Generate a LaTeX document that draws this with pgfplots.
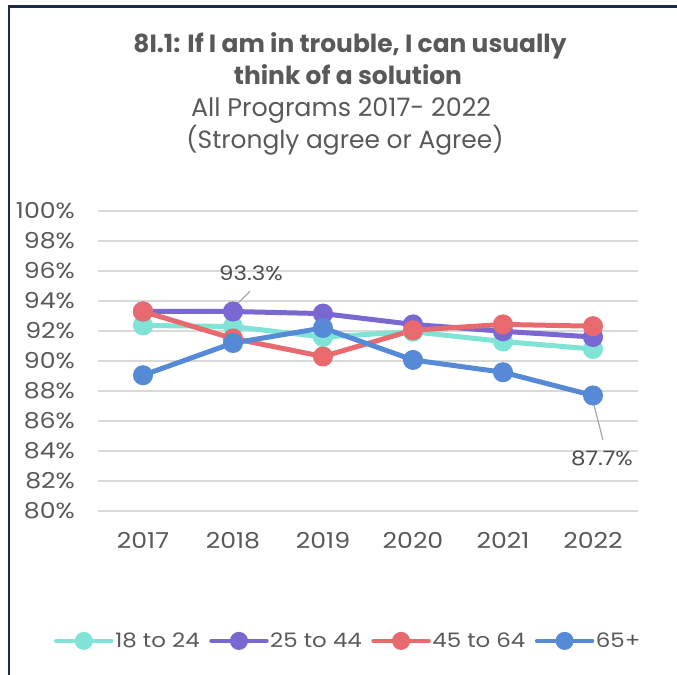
\documentclass[border=0pt]{standalone}
\usepackage{pgfplots}
\pgfplotsset{compat=1.18}
\usepackage{fontspec}
\setmainfont{Poppins}
\newfontfamily\tickfont{Poppins}[FakeStretch=1.15]

\definecolor{teal18}{HTML}{7FE3D6}
\definecolor{purp25}{HTML}{7A67D2}
\definecolor{red45}{HTML}{E86A6F}
\definecolor{blue65}{HTML}{568AD6}
\definecolor{txtgray}{HTML}{595959}
\definecolor{gridgray}{HTML}{D9D9D9}
\definecolor{frame}{HTML}{1A2B4C}

\begin{document}
\begin{tikzpicture}
\useasboundingbox (0bp,0bp) rectangle (677bp,675bp);
% frame of the chart area (left and top edges visible)
\draw[frame, line width=2.5bp] (9bp,-20bp) -- (9bp,668.5bp) -- (700bp,668.5bp);

% titles
\node[anchor=base, font=\fontsize{25}{28}\selectfont\bfseries, text=txtgray] at (350bp,622bp) {8I.1: If I am in trouble, I can usually};
\node[anchor=base, font=\fontsize{25}{28}\selectfont\bfseries, text=txtgray] at (348bp,590bp) {think of a solution};
\node[anchor=base, font=\fontsize{25.5}{28}\selectfont, text=txtgray] at (341bp,558bp) {All Programs 2017- 2022};
\node[anchor=base, font=\fontsize{25}{28}\selectfont, text=txtgray] at (345bp,526bp) {(Strongly agree or Agree)};

\begin{axis}[
  at={(98bp,164bp)}, anchor=south west,
  scale only axis, width=540bp, height=300bp,
  xmin=2016.5, xmax=2022.5, ymin=80, ymax=100,
  xtick={2017,2018,2019,2020,2021,2022},
  ytick={80,82,...,100},
  yticklabel={\pgfmathprintnumber{\tick}\%},
  /pgf/number format/1000 sep=,
  /pgf/number format/assume math mode=true,
  ymajorgrids, grid style={gridgray, line width=1.3bp},
  axis line style={draw=none}, major tick length=0pt,
  tick label style={font=\tickfont\fontsize{22}{24}\selectfont, text=txtgray, inner sep=0pt},
  yticklabel style={anchor=east, xshift=-23bp},
  xticklabel style={anchor=north, yshift=-21bp},
  every axis plot/.append style={line width=5bp, mark=*, mark size=7.5bp},
  legend columns=4,
  legend style={at={(0.463,-0.433)}, anchor=center, draw=none, fill=none,
    font=\tickfont\fontsize{20}{24}\selectfont, text=txtgray,
    nodes={inner sep=1.5bp, text=txtgray},
    /tikz/every even column/.append style={column sep=8bp}},
  legend image code/.code={
    \draw[#1, line width=4.5bp, line cap=round] (0bp,0bp) -- (55bp,0bp);
    \fill[#1] (27.5bp,0bp) circle (6.5bp);
  },
]
\addplot[teal18, mark options={fill=teal18, draw=teal18}] coordinates {
  (2017,92.37) (2018,92.3) (2019,91.6) (2020,91.95) (2021,91.3) (2022,90.8)
};
\addplot[purp25, mark options={fill=purp25, draw=purp25}] coordinates {
  (2017,93.3) (2018,93.3) (2019,93.16) (2020,92.44) (2021,91.98) (2022,91.6)
};
\addplot[red45, mark options={fill=red45, draw=red45}] coordinates {
  (2017,93.3) (2018,91.5) (2019,90.3) (2020,92.05) (2021,92.44) (2022,92.32)
};
\addplot[blue65, mark options={fill=blue65, draw=blue65}] coordinates {
  (2017,89.05) (2018,91.2) (2019,92.2) (2020,90.07) (2021,89.25) (2022,87.7)
};
\legend{18 to 24, 25 to 44, 45 to 64, 65+}

% data labels with leader lines
\draw[gray!70, line width=1.2bp] (axis cs:2018.19,94.65) -- (axis cs:2017.98,93.42);
\node[font=\tickfont\fontsize{20}{24}\selectfont, text=txtgray!85!black] at (axis cs:2018.2,95.85) {93.3\%};
\draw[gray!70, line width=1.2bp] (axis cs:2021.99,87.55) -- (axis cs:2022.11,84.75);
\node[font=\tickfont\fontsize{20}{24}\selectfont, text=txtgray!85!black] at (axis cs:2022.1,83.5) {87.7\%};
\end{axis}
\end{tikzpicture}
\end{document}
